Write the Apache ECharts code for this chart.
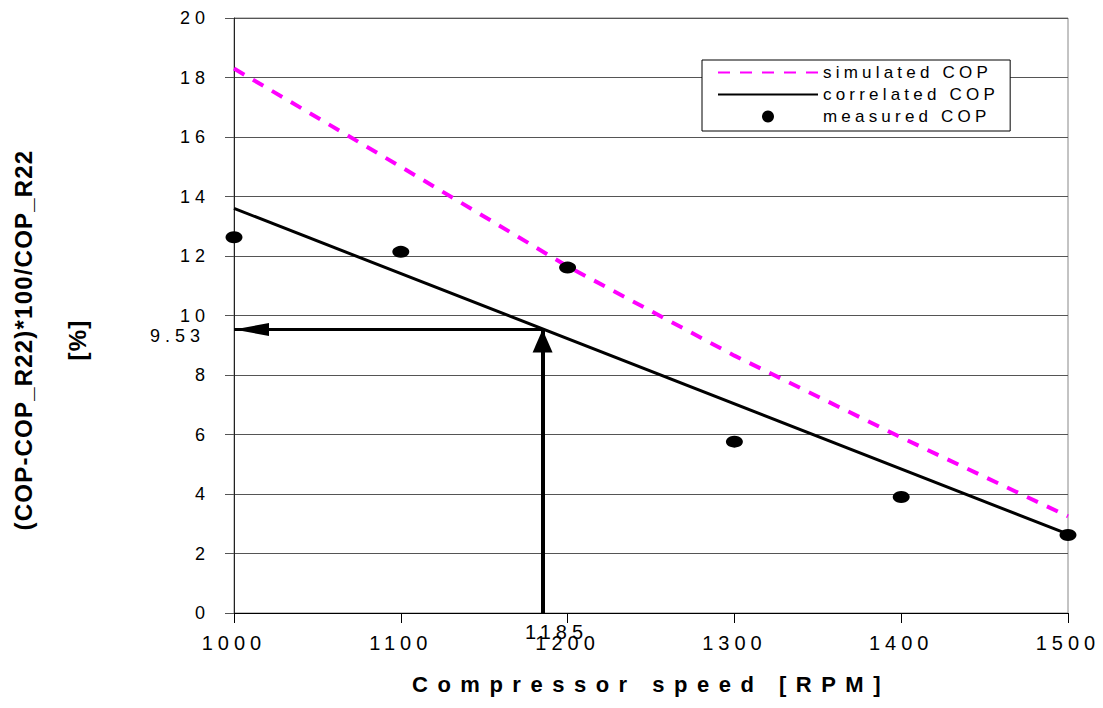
<!DOCTYPE html>
<html>
<head>
<meta charset="utf-8">
<script src="https://cdn.jsdelivr.net/npm/echarts@6/dist/echarts.min.js"></script>
<style>
html,body{margin:0;padding:0;background:#fff;}
#chart{width:1103px;height:708px;}
</style>
</head>
<body>
<div id="chart"></div>
<script>
// data
var speedTicks = [1000, 1100, 1200, 1300, 1400, 1500];
var simulatedCop = [18.3, 15.0, 11.65, 8.65, 5.9, 3.25];
var measuredCop = [12.63, 12.14, 11.61, 5.76, 3.9, 2.62];
var correlatedSpeed = [1000, 1500];
var correlatedCop = [13.6, 2.65];
var crossSpeed = 1185;   // vertical arrow
var crossCop = 9.53;     // horizontal arrow
var seriesNames = ['simulated COP', 'correlated COP', 'measured COP'];
var yNameLines = ['(COP-COP_R22)*100/COP_R22', '[%]'];
var xName = 'Compressor speed [RPM]';

var FONT = '"Liberation Sans", Arial, sans-serif';

function pairs(xs, ys){
    var out = [];
    for (var i = 0; i < xs.length; i++) out.push([xs[i], ys[i]]);
    return out;
}

var dom = document.getElementById('chart');
var myChart = echarts.init(dom, null, {renderer: 'svg'});

var option = {
    animation: false,
    backgroundColor: '#fff',
    grid: {left: 234, right: 35, top: 18, bottom: 95, show: true, borderColor: '#888', borderWidth: 1},
    legend: {
        orient: 'vertical', left: 702, top: 60,
        padding: [4, 70, 6, 15],
        itemWidth: 100, itemHeight: 12, itemGap: 5,
        backgroundColor: '#fff', borderColor: '#000', borderWidth: 1, borderRadius: 0,
        textStyle: {fontSize: 17, lineHeight: 14, color: '#000', fontFamily: FONT},
        data: [
            {name: seriesNames[0], itemStyle: {opacity: 0}},
            {name: seriesNames[1], itemStyle: {opacity: 0}},
            {name: seriesNames[2]}
        ]
    },
    xAxis: {
        type: 'value', min: 1000, max: 1500, interval: 100,
        name: xName, nameLocation: 'middle', nameGap: 60,
        nameTextStyle: {fontSize: 22, fontWeight: 'bold', color: '#000', fontFamily: FONT},
        axisLine: {lineStyle: {color: '#000', width: 1}},
        axisTick: {show: true, length: 10, lineStyle: {color: '#000'}},
        axisLabel: {fontSize: 20, color: '#000', margin: 20, fontFamily: FONT,
                    formatter: function(v){ return String(v); }},
        splitLine: {show: false}
    },
    yAxis: {
        type: 'value', min: 0, max: 20, interval: 2,
        axisLine: {show: true, lineStyle: {color: '#222', width: 1}},
        axisTick: {show: true, length: 9, lineStyle: {color: '#555'}},
        axisLabel: {fontSize: 18, color: '#000', margin: 24, fontFamily: FONT},
        splitLine: {show: true, lineStyle: {color: '#555', width: 1}}
    },
    graphic: [{
        type: 'text', x: 50, y: 340, rotation: Math.PI / 2,
        style: {
            text: yNameLines.join('\n'),
            fontSize: 24, fontWeight: 'bold', fontFamily: FONT,
            align: 'center', verticalAlign: 'middle', lineHeight: 54, fill: '#000'
        }
    }],
    series: [
        {
            name: seriesNames[0], type: 'line', symbol: 'none',
            data: pairs(speedTicks, simulatedCop),
            itemStyle: {color: '#ff00ff'},
            lineStyle: {color: '#ff00ff', width: 4, type: [12, 10]},
            z: 2
        },
        {
            name: seriesNames[1], type: 'line', symbol: 'none',
            data: pairs(correlatedSpeed, correlatedCop),
            itemStyle: {color: '#000'},
            lineStyle: {color: '#000', width: 3},
            z: 3,
            markLine: {
                silent: true, animation: false,
                symbol: ['none', 'triangle'],
                data: [
                    [
                        {coord: [crossSpeed, 0], symbol: 'none',
                         lineStyle: {color: '#000', width: 4, type: 'solid'},
                         label: {show: true, position: 'start', distance: 9, formatter: String(crossSpeed),
                                 fontSize: 20, color: '#000', fontFamily: FONT, padding: [0, 0, 0, 28]}},
                        {coord: [crossSpeed, crossCop], symbol: 'triangle', symbolSize: [20, 23], symbolOffset: [0, '50%']}
                    ],
                    [
                        {coord: [crossSpeed, crossCop], symbol: 'none',
                         lineStyle: {color: '#000', width: 3, type: 'solid'},
                         label: {show: false}},
                        {coord: [1000, crossCop], symbol: 'triangle', symbolSize: [13, 35], symbolOffset: [0, '50%']}
                    ]
                ],
                itemStyle: {color: '#000'}
            }
        },
        {
            name: seriesNames[2], type: 'scatter',
            symbol: 'circle', symbolSize: [17, 12],
            data: pairs(speedTicks, measuredCop),
            itemStyle: {color: '#000', opacity: 1},
            z: 4
        }
    ]
};

myChart.setOption(option);

// value label of the horizontal arrow, placed at its end on the y axis
var arrowEnd = myChart.convertToPixel({gridIndex: 0}, [1000, crossCop]);
myChart.setOption({
    graphic: [option.graphic[0], {
        type: 'text', x: arrowEnd[0] - 29, y: arrowEnd[1] + 7,
        style: {text: String(crossCop), fontSize: 18, fontFamily: FONT,
                align: 'right', verticalAlign: 'middle', fill: '#000'}
    }]
});

// the source prints its text spread out; widen letters per font size
var spacing = {'400/17': 4.2, '400/18': 5, '400/20': 5, '700/22': 9.5, '700/24': 1.2};
function spaceLetters(){
    var nodes = dom.querySelectorAll('text');
    for (var i = 0; i < nodes.length; i++) {
        var cs = window.getComputedStyle(nodes[i]);
        var key = parseInt(cs.fontWeight, 10) + '/' + Math.round(parseFloat(cs.fontSize));
        if (spacing[key] != null) {
            nodes[i].setAttribute('letter-spacing', spacing[key]);
        }
    }
}
myChart.on('finished', spaceLetters);
spaceLetters();
setTimeout(spaceLetters, 50);
</script>
</body>
</html>
